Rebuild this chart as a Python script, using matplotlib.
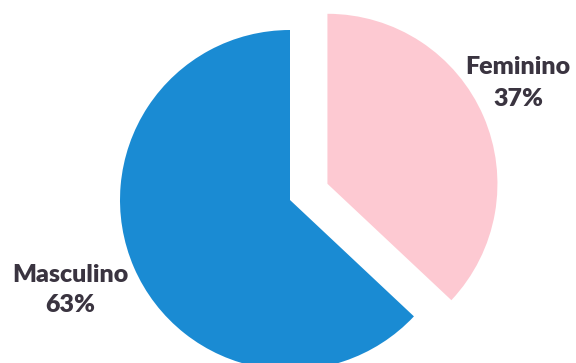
import matplotlib
matplotlib.use("Agg")
import matplotlib.pyplot as plt

categories = ["Feminino", "Masculino"]
values = [37, 63]
colors = ["#fdc9d2", "#1a8bd3"]
explode_frac = [0.24, 0.0]

fig = plt.figure(figsize=(5.76, 3.63), dpi=100)
ax = fig.add_axes([0, 0, 1, 1])

cx, cy, r = 290, 163, 170
ax.pie(values, colors=colors, explode=[e * r for e in explode_frac], startangle=90,
       counterclock=False, center=(cx, cy), radius=r, frame=True,
       wedgeprops=dict(linewidth=0))
ax.set_xlim(0, 576)
ax.set_ylim(0, 363)
ax.set_aspect("equal")
ax.axis("off")

label_pos = {"Feminino": (518, 280), "Masculino": (70, 73)}
for cat, val in zip(categories, values):
    x, y = label_pos[cat]
    ax.text(x, y, f"{cat}\n{val}%", ha="center", va="center", fontsize=18,
            fontweight="heavy", color="#3a3440", family="Lato", linespacing=1.5)

fig.savefig("out.png", dpi=100)
